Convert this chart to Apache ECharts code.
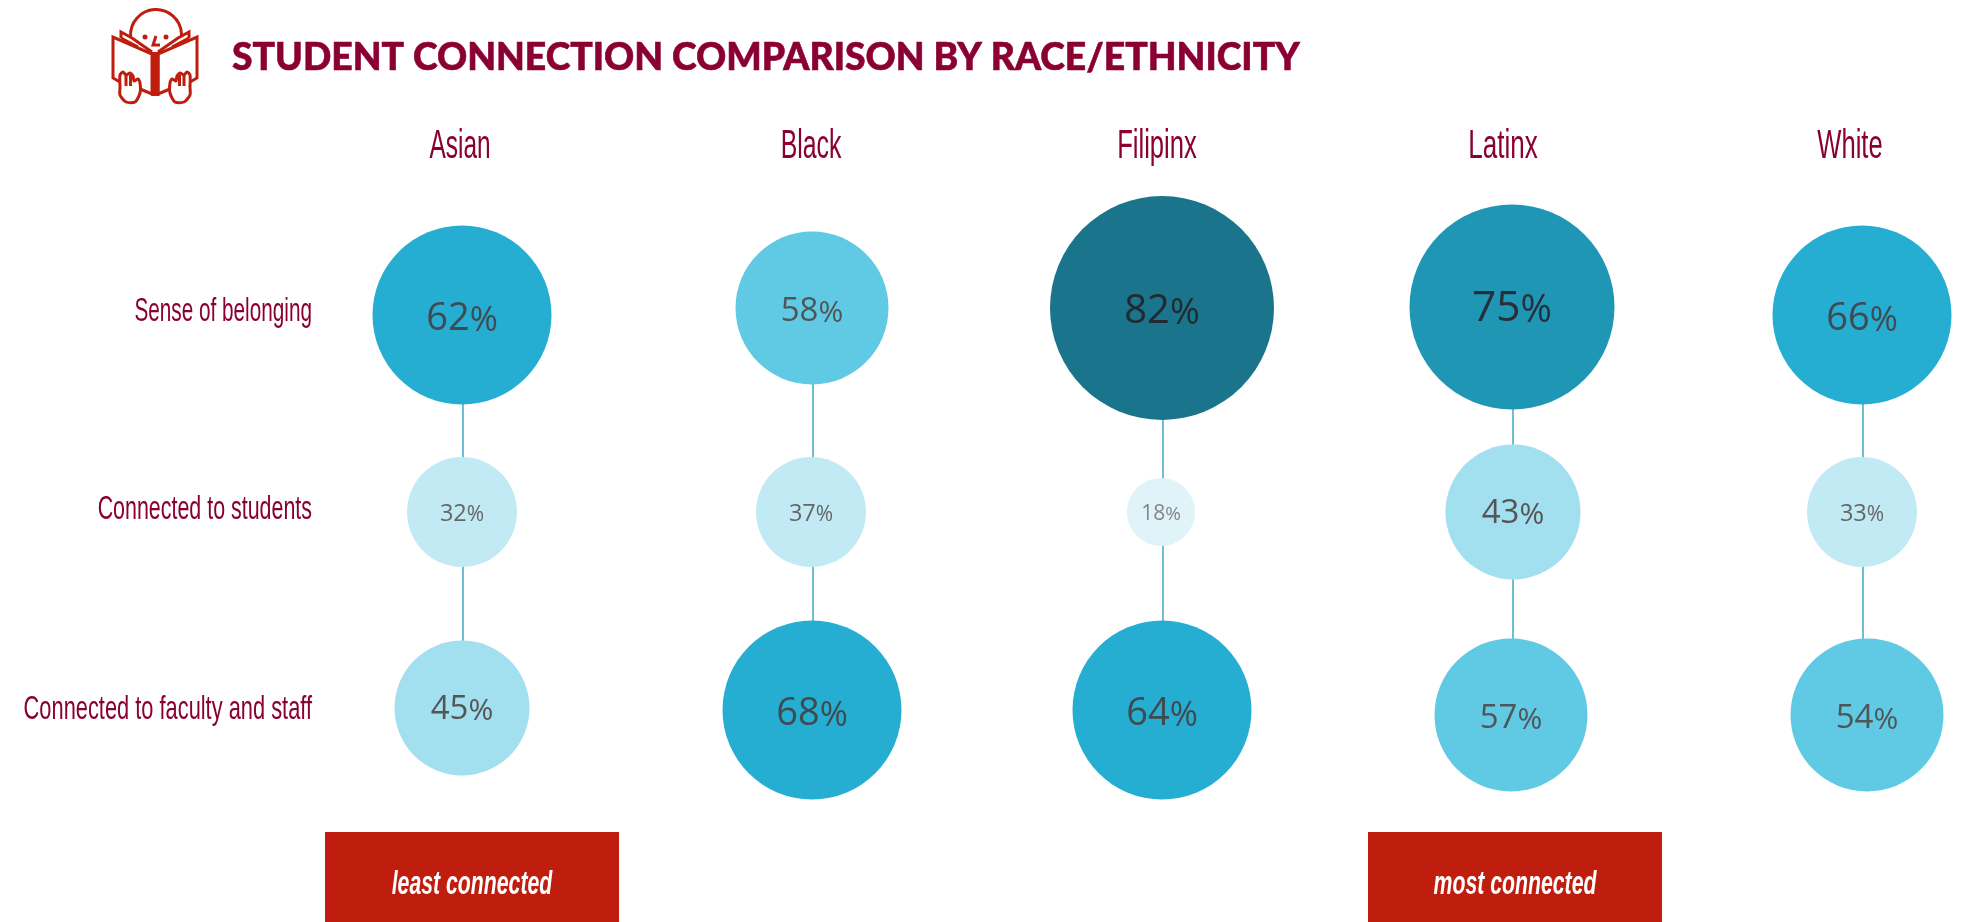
<!DOCTYPE html>
<html>
<head>
<meta charset="utf-8">
<title>Student connection comparison</title>
<script src="https://cdn.jsdelivr.net/npm/echarts@6/dist/echarts.min.js"></script>
<style>
  html, body { margin: 0; padding: 0; background: #fff; }
  #chart { width: 1962px; height: 922px; }
</style>
</head>
<body>
<div id="chart"></div>
<script>
  var groups = ['Asian', 'Black', 'Filipinx', 'Latinx', 'White']
  var measures = ['Sense of belonging', 'Connected to students', 'Connected to faculty and staff']

  // one array per race/ethnicity, same order as measures
  var asian = [62, 32, 45]
  var black = [58, 37, 68]
  var filipinx = [82, 18, 64]
  var latinx = [75, 43, 57]
  var white = [66, 33, 54]
  var values = [asian, black, filipinx, latinx, white]

  // bubbles are binned, not continuous: upper limit, diameter, fill, text colour, font size, label drop
  var binMax = [20, 40, 50, 60, 70, 80, 100]
  var binSize = [68, 110, 135, 153, 179, 205, 224]
  var binColor = ['#e0f3f9', '#c1eaf4', '#a2dfef', '#60c9e3', '#26aed2', '#2096b5', '#19748c']
  var binText = ['#868686', '#666666', '#555555', '#4f5659', '#404a50', '#25303a', '#222a30']
  var binFont = [21, 23.5, 33, 33, 38, 42.5, 40]
  var binDrop = [2, 2, 2, 4, 4, 2, 4]

  // small hand-placement shifts of the original, [dx, dy] per bubble
  var shifts = [
    [[-1, 5], [-1, 2], [-1, -2]],
    [[-1, -2], [-2, 2], [-1, 0]],
    [[-1, -2], [-2, 2], [-1, 0]],
    [[-1, -3], [0, 2], [-2, 5]],
    [[-1, 5], [-1, 2], [4, 5]]
  ]
  // header and row label shifts against their axis position, and how much each is squeezed
  var headerShift = [-3, -2, -6, -10, -13]
  var headerSqueeze = [0.61, 0.62, 0.64, 0.65, 0.64]
  var rowShift = [2, 0, 0]
  var rowSqueeze = [0.61, 0.63, 0.642]

  var chart = echarts.init(document.getElementById('chart'))
  var red = '#bf1d0e'
  var wine = '#8a0032'
  var condensed = '"Liberation Sans", sans-serif'

  function binOf(v) {
    for (var i = 0; i < binMax.length; i++) {
      if (v <= binMax[i]) return i
    }
    return binMax.length - 1
  }

  var bubbles = []
  groups.forEach(function (g, c) {
    measures.forEach(function (m, r) {
      var v = values[c][r]
      var b = binOf(v)
      bubbles.push({
        value: [g, m, v],
        symbolSize: binSize[b],
        symbolOffset: shifts[c][r],
        itemStyle: { color: binColor[b], opacity: 1 },
        label: {
          offset: [0, binDrop[b]],
          rich: {
            n: { fontSize: binFont[b], color: binText[b], fontFamily: '"Open Sans", sans-serif' },
            p: { fontSize: Math.round(binFont[b] * 0.9), color: binText[b], fontFamily: '"Open Sans", sans-serif', verticalAlign: 'bottom' }
          }
        }
      })
    })
  })

  var connectors = groups.map(function (g) {
    return {
      type: 'line',
      silent: true,
      showSymbol: false,
      z: 1,
      lineStyle: { color: '#3fa9c6', width: 1.5 },
      data: [[g, measures[0]], [g, measures[2]]]
    }
  })

  var iconLine = { fill: 'none', stroke: red, lineWidth: 3 }

  function poly(points) {
    return { type: 'polyline', shape: { points: points }, style: iconLine }
  }

  // one side of the book and its hand, the other side is mirrored round the spine
  function bookSide(mirror) {
    function m(p) { return mirror ? [310 - p[0], p[1]] : p }
    var outline = [[120, 87], [120, 75], [123, 72], [126, 75], [130, 73], [133, 76], [134, 81], [138, 79], [140, 83], [140, 93], [135, 102], [126, 102], [120, 95], [120, 87]]
    return [
      poly([[120, 82], [113, 78], [113, 37], [152, 54], [152, 94], [140, 89]].map(m)),
      poly([[121, 38], [121, 32], [132, 38], [152, 52]].map(m)),
      poly([[121, 38], [138, 47]].map(m)),
      { type: 'polygon', shape: { points: outline.map(m), smooth: 0.25 }, style: { fill: '#fff', stroke: red, lineWidth: 3 } },
      poly([[126, 75], [126, 86]].map(m)),
      poly([[130.5, 75], [130.5, 86]].map(m))
    ]
  }

  var iconAndCallouts = [
    // reader icon
    {
      type: 'group',
      silent: true,
      children: [
        { type: 'arc', shape: { cx: 156, cy: 35, r: 25.5, startAngle: Math.PI * 0.98, endAngle: Math.PI * 2.02 }, style: iconLine },
        { type: 'rect', shape: { x: 151, y: 52, width: 8.5, height: 44 }, style: { fill: red } },
        { type: 'circle', shape: { cx: 145, cy: 37, r: 2.5 }, style: { fill: red } },
        { type: 'circle', shape: { cx: 166, cy: 37, r: 2.5 }, style: { fill: red } },
        poly([[156, 36], [153, 45], [160, 45]])
      ].concat(bookSide(false), bookSide(true))
    },
    // the two callouts under the columns
    { type: 'rect', left: 325, top: 832, shape: { width: 294, height: 90 }, style: { fill: red } },
    {
      type: 'text', x: 472, y: 885, scaleX: 0.625,
      style: { text: 'least connected', fill: '#fff', font: 'italic bold 34px ' + condensed, align: 'center', verticalAlign: 'middle' }
    },
    { type: 'rect', left: 1368, top: 832, shape: { width: 294, height: 90 }, style: { fill: red } },
    {
      type: 'text', x: 1515, y: 885, scaleX: 0.625,
      style: { text: 'most connected', fill: '#fff', font: 'italic bold 34px ' + condensed, align: 'center', verticalAlign: 'middle' }
    }
  ]

  var option = {
    animation: false,
    backgroundColor: '#fff',
    title: {
      text: 'STUDENT CONNECTION COMPARISON BY RACE/ETHNICITY',
      left: 227,
      top: 34,
      textStyle: { color: wine, fontFamily: 'Lato', fontWeight: 900, fontSize: 37.3, textBorderColor: wine, textBorderWidth: 0.6 }
    },
    grid: { left: 463, right: 99, top: 310, bottom: 212, outerBoundsMode: 'none' },
    xAxis: {
      type: 'category',
      position: 'top',
      boundaryGap: false,
      data: groups,
      axisLine: { show: false },
      axisTick: { show: false },
      axisLabel: { show: false }
    },
    yAxis: {
      type: 'category',
      inverse: true,
      boundaryGap: false,
      data: measures,
      axisLine: { show: false },
      axisTick: { show: false },
      axisLabel: { show: false }
    },
    series: connectors.concat([{
      type: 'scatter',
      z: 2,
      data: bubbles,
      label: {
        show: true,
        position: 'inside',
        formatter: function (p) {
          return '{n|' + p.value[2] + '}{p|%}'
        }
      }
    }]),
    graphic: iconAndCallouts
  }

  chart.setOption(option)

  // no condensed face is installed, so the headers and row names are squeezed text placed from the axes
  var headerTexts = groups.map(function (g, i) {
    return {
      type: 'text',
      x: chart.convertToPixel({ xAxisIndex: 0 }, g) + headerShift[i],
      y: 147,
      scaleX: headerSqueeze[i],
      style: { text: g, fill: wine, font: '40px ' + condensed, align: 'center', verticalAlign: 'middle' }
    }
  })
  var rowTexts = measures.map(function (m, i) {
    return {
      type: 'text',
      x: 312,
      y: chart.convertToPixel({ yAxisIndex: 0 }, m) + rowShift[i],
      scaleX: rowSqueeze[i],
      style: { text: m, fill: wine, font: '34px ' + condensed, align: 'right', verticalAlign: 'middle' }
    }
  })
  chart.setOption({ graphic: iconAndCallouts.concat(headerTexts, rowTexts) })
</script>
</body>
</html>
